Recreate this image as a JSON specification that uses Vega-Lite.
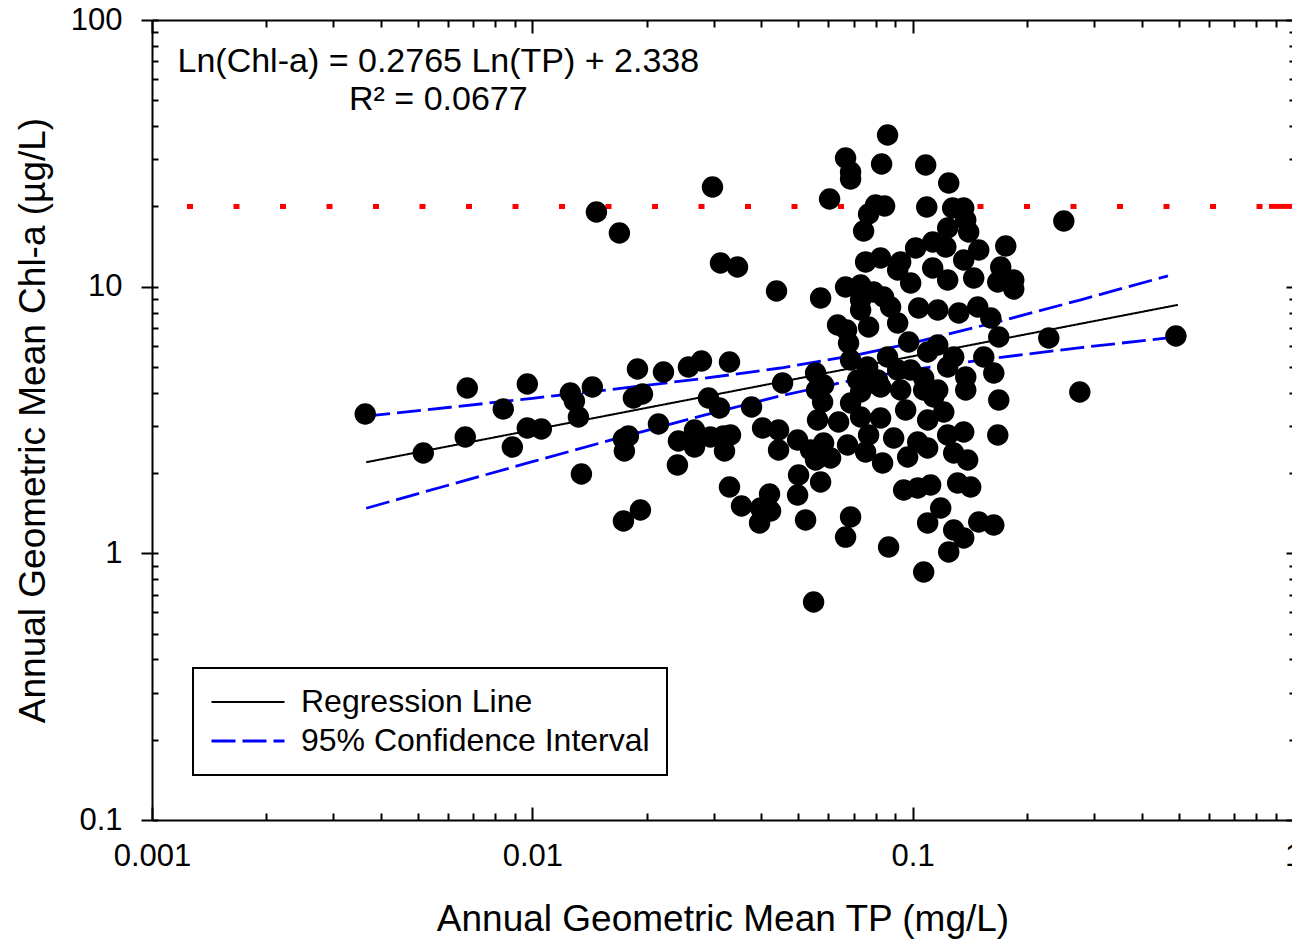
{
  "$schema": "https://vega.github.io/schema/vega-lite/v6.json",
  "width": 1141,
  "height": 800,
  "autosize": {"type": "none"},
  "padding": {"left": 152, "top": 20, "right": 0, "bottom": 120},
  "background": "white",
  "config": {
    "font": "Liberation Sans",
    "view": {"stroke": null},
    "axis": {"domainColor": "black", "domainWidth": 2, "tickColor": "black", "tickWidth": 2, "labelColor": "black", "titleColor": "black", "labelFont": "Liberation Sans", "titleFont": "Liberation Sans", "titleFontWeight": "normal", "labelFlush": false, "labelOverlap": false, "grid": false},
    "legend": {"strokeColor": "black", "strokeWidth": 2, "fillColor": "white", "padding": 17, "cornerRadius": 0}
  },
  "datasets": {
    "points": [
      {"TP":0.003636,"Chl":3.331},{"TP":0.005167,"Chl":2.378},{"TP":0.006663,"Chl":2.731},{"TP":0.006744,"Chl":4.169},{"TP":0.008386,"Chl":3.477},{"TP":0.008859,"Chl":2.504},{"TP":0.009701,"Chl":4.315},{"TP":0.009701,"Chl":2.951},{"TP":0.01056,"Chl":2.925},{"TP":0.01259,"Chl":3.992},{"TP":0.0129,"Chl":3.726},{"TP":0.01322,"Chl":3.246},{"TP":0.01346,"Chl":1.984},{"TP":0.01438,"Chl":4.205},{"TP":0.01474,"Chl":19.05},{"TP":0.01694,"Chl":15.89},{"TP":0.01736,"Chl":1.322},{"TP":0.01924,"Chl":1.454},{"TP":0.0189,"Chl":4.911},{"TP":0.02212,"Chl":4.786},{"TP":0.01844,"Chl":3.824},{"TP":0.01948,"Chl":3.958},{"TP":0.02146,"Chl":3.055},{"TP":0.01736,"Chl":2.684},{"TP":0.01789,"Chl":2.754},{"TP":0.01746,"Chl":2.42},{"TP":0.02422,"Chl":2.637},{"TP":0.02407,"Chl":2.144},
      {"TP":0.02573,"Chl":4.997},{"TP":0.02784,"Chl":5.263},{"TP":0.03299,"Chl":5.218},{"TP":0.02976,"Chl":23.64},{"TP":0.03124,"Chl":12.27},{"TP":0.03463,"Chl":11.85},{"TP":0.04386,"Chl":9.63},{"TP":0.04549,"Chl":4.353},{"TP":0.02905,"Chl":3.824},{"TP":0.03105,"Chl":3.508},{"TP":0.0377,"Chl":3.538},{"TP":0.02669,"Chl":2.9},{"TP":0.02669,"Chl":2.504},{"TP":0.0294,"Chl":2.731},{"TP":0.03181,"Chl":2.754},{"TP":0.03319,"Chl":2.778},{"TP":0.03201,"Chl":2.42},{"TP":0.0403,"Chl":2.951},{"TP":0.0444,"Chl":2.9},{"TP":0.04982,"Chl":2.661},{"TP":0.0444,"Chl":2.441},{"TP":0.03299,"Chl":1.773},{"TP":0.03548,"Chl":1.505},{"TP":0.04204,"Chl":1.669},{"TP":0.0423,"Chl":1.441},{"TP":0.03981,"Chl":1.479},{"TP":0.03958,"Chl":1.3},{"TP":0.05012,"Chl":1.967},{"TP":0.04982,"Chl":1.655},{"TP":0.05229,"Chl":1.334},
      {"TP":0.08591,"Chl":37.05},{"TP":0.06662,"Chl":30.37},{"TP":0.06867,"Chl":26.92},{"TP":0.06867,"Chl":25.33},{"TP":0.08285,"Chl":28.84},{"TP":0.1082,"Chl":28.59},{"TP":0.1244,"Chl":24.47},{"TP":0.06047,"Chl":21.32},{"TP":0.07989,"Chl":20.24},{"TP":0.08437,"Chl":20.07},{"TP":0.07658,"Chl":18.73},{"TP":0.07431,"Chl":16.17},{"TP":0.1089,"Chl":19.9},{"TP":0.1274,"Chl":19.72},{"TP":0.1362,"Chl":19.72},{"TP":0.1379,"Chl":17.78},{"TP":0.1236,"Chl":16.6},{"TP":0.1404,"Chl":16.03},{"TP":0.1492,"Chl":13.72},{"TP":0.1757,"Chl":14.21},{"TP":0.1018,"Chl":13.96},{"TP":0.1129,"Chl":14.71},{"TP":0.1222,"Chl":14.09},{"TP":0.07521,"Chl":12.38},{"TP":0.08235,"Chl":12.81},{"TP":0.09299,"Chl":12.38},{"TP":0.1129,"Chl":11.75},{"TP":0.1236,"Chl":10.59},{"TP":0.1362,"Chl":12.59},{"TP":0.1447,"Chl":10.78},{"TP":0.1704,"Chl":11.85},{"TP":0.1674,"Chl":10.41},{"TP":0.1844,"Chl":9.8},{"TP":0.05727,"Chl":9.069},{"TP":0.06662,"Chl":9.97},{"TP":0.07297,"Chl":10.14},{"TP":0.07893,"Chl":9.55},{"TP":0.09132,"Chl":11.55},{"TP":0.09879,"Chl":10.32},
      {"TP":0.07297,"Chl":8.913},{"TP":0.08386,"Chl":9.147},{"TP":0.08749,"Chl":8.391},{"TP":0.07297,"Chl":8.175},{"TP":0.06347,"Chl":7.181},{"TP":0.07658,"Chl":7.058},{"TP":0.09132,"Chl":7.306},{"TP":0.1037,"Chl":8.318},{"TP":0.1164,"Chl":8.175},{"TP":0.1322,"Chl":7.966},{"TP":0.1483,"Chl":8.391},{"TP":0.1605,"Chl":7.628},{"TP":0.1684,"Chl":6.475},{"TP":0.06784,"Chl":6.148},{"TP":0.09761,"Chl":6.201},{"TP":0.1164,"Chl":6.043},{"TP":0.08591,"Chl":5.448},{"TP":0.09132,"Chl":4.869},{"TP":0.1095,"Chl":5.689},{"TP":0.1282,"Chl":5.448},{"TP":0.1538,"Chl":5.448},{"TP":0.1634,"Chl":4.745},{"TP":0.1379,"Chl":4.584},{"TP":0.05556,"Chl":4.745},{"TP":0.06867,"Chl":5.309},{"TP":0.07612,"Chl":4.997},{"TP":0.07166,"Chl":4.467},{"TP":0.08087,"Chl":4.467},{"TP":0.09879,"Chl":4.869},{"TP":0.1069,"Chl":4.545},{"TP":0.1236,"Chl":4.997},{"TP":0.05832,"Chl":4.278},
      {"TP":0.05797,"Chl":3.694},{"TP":0.05623,"Chl":3.162},{"TP":0.0539,"Chl":2.441},{"TP":0.05556,"Chl":2.239},{"TP":0.06084,"Chl":2.278},{"TP":0.06386,"Chl":3.108},{"TP":0.06867,"Chl":3.662},{"TP":0.07297,"Chl":3.246},{"TP":0.07751,"Chl":4.353},{"TP":0.08235,"Chl":3.218},{"TP":0.06743,"Chl":2.548},{"TP":0.07521,"Chl":2.399},{"TP":0.07658,"Chl":2.778},{"TP":0.08913,"Chl":2.707},{"TP":0.08335,"Chl":2.182},{"TP":0.09585,"Chl":3.447},{"TP":0.1095,"Chl":3.162},{"TP":0.1207,"Chl":3.388},{"TP":0.09299,"Chl":4.097},{"TP":0.1069,"Chl":4.097},{"TP":0.1164,"Chl":4.097},{"TP":0.1379,"Chl":4.097},{"TP":0.1684,"Chl":3.758},{"TP":0.09701,"Chl":2.298},{"TP":0.1031,"Chl":2.615},{"TP":0.1095,"Chl":2.483},{"TP":0.1236,"Chl":2.778},{"TP":0.1362,"Chl":2.851},{"TP":0.1282,"Chl":2.378},{"TP":0.1395,"Chl":2.239},{"TP":0.1674,"Chl":2.778},{"TP":0.05589,"Chl":4.097},{"TP":0.08235,"Chl":4.205},{"TP":0.1136,"Chl":3.857},{"TP":0.07297,"Chl":4.027},
      {"TP":0.05727,"Chl":1.851},{"TP":0.06867,"Chl":1.369},{"TP":0.06662,"Chl":1.151},{"TP":0.08644,"Chl":1.056},{"TP":0.05489,"Chl":0.657},{"TP":0.09469,"Chl":1.728},{"TP":0.1031,"Chl":1.758},{"TP":0.1115,"Chl":1.804},{"TP":0.1313,"Chl":1.835},{"TP":0.1421,"Chl":1.773},{"TP":0.1185,"Chl":1.479},{"TP":0.1095,"Chl":1.3},{"TP":0.1282,"Chl":1.223},{"TP":0.1362,"Chl":1.142},{"TP":0.1244,"Chl":1.012},{"TP":0.1069,"Chl":0.851},{"TP":0.1492,"Chl":1.311},{"TP":0.1634,"Chl":1.277},
      {"TP":0.2497,"Chl":17.63},{"TP":0.1844,"Chl":10.59},{"TP":0.228,"Chl":6.419},{"TP":0.4922,"Chl":6.531},{"TP":0.2751,"Chl":4.027},{"TP":0.05832,"Chl":2.592},{"TP":0.06702,"Chl":6.879}
    ],
    "lines": [
      {"TP":0.003658,"Chl":2.196,"series":"Regression Line","part":"reg"},
      {"TP":0.4981,"Chl":8.546,"series":"Regression Line","part":"reg"},
      {"TP":0.003658,"Chl":3.267,"series":"95% Confidence Interval","part":"upper"},
      {"TP":0.006085,"Chl":3.53,"series":"95% Confidence Interval","part":"upper"},
      {"TP":0.01,"Chl":3.814,"series":"95% Confidence Interval","part":"upper"},
      {"TP":0.01704,"Chl":4.153,"series":"95% Confidence Interval","part":"upper"},
      {"TP":0.02768,"Chl":4.512,"series":"95% Confidence Interval","part":"upper"},
      {"TP":0.04494,"Chl":4.954,"series":"95% Confidence Interval","part":"upper"},
      {"TP":0.07037,"Chl":5.527,"series":"95% Confidence Interval","part":"upper"},
      {"TP":0.1,"Chl":6.15,"series":"95% Confidence Interval","part":"upper"},
      {"TP":0.1704,"Chl":7.428,"series":"95% Confidence Interval","part":"upper"},
      {"TP":0.2768,"Chl":8.927,"series":"95% Confidence Interval","part":"upper"},
      {"TP":0.469,"Chl":10.98,"series":"95% Confidence Interval","part":"upper"},
      {"TP":0.003658,"Chl":1.476,"series":"95% Confidence Interval","part":"lower"},
      {"TP":0.006085,"Chl":1.81,"series":"95% Confidence Interval","part":"lower"},
      {"TP":0.01,"Chl":2.206,"series":"95% Confidence Interval","part":"lower"},
      {"TP":0.01704,"Chl":2.72,"series":"95% Confidence Interval","part":"lower"},
      {"TP":0.02768,"Chl":3.272,"series":"95% Confidence Interval","part":"lower"},
      {"TP":0.04494,"Chl":3.896,"series":"95% Confidence Interval","part":"lower"},
      {"TP":0.07037,"Chl":4.476,"series":"95% Confidence Interval","part":"lower"},
      {"TP":0.1,"Chl":4.887,"series":"95% Confidence Interval","part":"lower"},
      {"TP":0.1704,"Chl":5.433,"series":"95% Confidence Interval","part":"lower"},
      {"TP":0.2768,"Chl":5.908,"series":"95% Confidence Interval","part":"lower"},
      {"TP":0.469,"Chl":6.429,"series":"95% Confidence Interval","part":"lower"}
    ]
  },
  "layer": [
    {
      "data": {"values": [{"Chl": 20}]},
      "mark": {"type": "rule", "color": "#ff0000", "strokeWidth": 5, "strokeDash": [6, 40.5], "strokeDashOffset": 16},
      "encoding": {
        "y": {"field": "Chl", "type": "quantitative", "scale": {"type": "log", "domain": [0.1, 100], "nice": false},
              "axis": {"orient": "left", "values": [0.1, 1, 10, 100], "tickSize": 11, "labels": false, "domain": false, "title": null}}
      }
    },
    {
      "data": {"values": [{"TP": 0.865, "TP2": 1, "Chl": 20}]},
      "mark": {"type": "rule", "color": "#ff0000", "strokeWidth": 5},
      "encoding": {
        "x": {"field": "TP", "type": "quantitative", "scale": {"type": "log", "domain": [0.001, 1], "nice": false}, "axis": null},
        "x2": {"field": "TP2"},
        "y": {"field": "Chl", "type": "quantitative", "axis": null}
      }
    },
    {
      "data": {"name": "lines"},
      "mark": {"type": "line"},
      "encoding": {
        "x": {"field": "TP", "type": "quantitative", "scale": {"type": "log", "domain": [0.001, 1], "nice": false},
              "axis": {"orient": "top", "values": [0.001,0.002,0.003,0.004,0.005,0.006,0.007,0.008,0.009,0.01,0.02,0.03,0.04,0.05,0.06,0.07,0.08,0.09,0.1,0.2,0.3,0.4,0.5,0.6,0.7,0.8,0.9,1],
                       "tickSize": -13, "tickDash": {"condition": {"test": "indexof([0.001,0.01,0.1,1], datum.value) < 0", "value": [7, 40]}, "value": [1, 0]},
                       "labels": false, "title": null}},
        "y": {"field": "Chl", "type": "quantitative", "scale": {"type": "log", "domain": [0.1, 100], "nice": false},
              "axis": {"orient": "right", "values": [0.1,0.2,0.3,0.4,0.5,0.6,0.7,0.8,0.9,1,2,3,4,5,6,7,8,9,10,20,30,40,50,60,70,80,90,100],
                       "tickSize": -7, "tickDash": {"condition": {"test": "indexof([0.1,1,10,100], datum.value) < 0", "value": [4, 40]}, "value": [1, 0]},
                       "labels": false, "title": null}},
        "color": {"field": "series", "type": "nominal",
                  "scale": {"domain": ["Regression Line", "95% Confidence Interval"], "range": ["#000000", "#0000ff"]},
                  "legend": {"title": null, "orient": "none", "legendX": 41, "legendY": 648, "symbolType": "stroke", "symbolSize": 5329, "symbolStrokeWidth": 2, "clipHeight": 34, "labelFontSize": 32, "labelFont": "Liberation Sans", "labelColor": "black", "labelOffset": 15, "labelLimit": 1000, "rowPadding": 5}},
        "strokeDash": {"field": "series", "type": "nominal",
                       "scale": {"domain": ["Regression Line", "95% Confidence Interval"], "range": [[1, 0], [24, 7]]},
                       "legend": {"title": null, "orient": "none", "legendX": 41, "legendY": 648, "symbolType": "stroke", "symbolSize": 5329, "symbolStrokeWidth": 2, "clipHeight": 34, "labelFontSize": 32, "labelFont": "Liberation Sans", "labelColor": "black", "labelOffset": 15, "labelLimit": 1000, "rowPadding": 5}},
        "strokeWidth": {"field": "series", "type": "nominal", "scale": {"domain": ["Regression Line", "95% Confidence Interval"], "range": [2, 2.8]}, "legend": null},
        "detail": {"field": "part"}
      }
    },
    {
      "data": {"name": "points"},
      "mark": {"type": "circle", "size": 460, "color": "black", "opacity": 1},
      "encoding": {
        "x": {"field": "TP", "type": "quantitative", "scale": {"type": "log", "domain": [0.001, 1], "nice": false},
              "axis": {"orient": "bottom", "values": [0.001,0.002,0.003,0.004,0.005,0.006,0.007,0.008,0.009,0.01,0.02,0.03,0.04,0.05,0.06,0.07,0.08,0.09,0.1,0.2,0.3,0.4,0.5,0.6,0.7,0.8,0.9,1],
                       "tickSize": -13, "tickDash": {"condition": {"test": "indexof([0.001,0.01,0.1,1], datum.value) < 0", "value": [7, 40]}, "value": [1, 0]},
                       "format": "~g", "labelExpr": "indexof([0.001,0.01,0.1,1], datum.value) >= 0 ? datum.label : ''",
                       "labelFontSize": 31, "labelPadding": 34,
                       "title": "Annual Geometric Mean TP (mg/L)", "titleFontSize": 37, "titlePadding": 30}},
        "y": {"field": "Chl", "type": "quantitative", "scale": {"type": "log", "domain": [0.1, 100], "nice": false},
              "axis": {"orient": "left", "values": [0.1,0.2,0.3,0.4,0.5,0.6,0.7,0.8,0.9,1,2,3,4,5,6,7,8,9,10,20,30,40,50,60,70,80,90,100],
                       "tickSize": -6,
                       "format": "~g", "labelExpr": "indexof([0.1,1,10,100], datum.value) >= 0 ? datum.label : ''",
                       "labelFontSize": 31, "labelPadding": 36,
                       "title": "Annual Geometric Mean Chl-a (µg/L)", "titleFontSize": 37, "titlePadding": 18}}
      }
    },
    {
      "data": {"values": [
        {"TP": 0.00566, "Chl": 63.83, "label": "Ln(Chl-a) = 0.2765 Ln(TP) + 2.338"},
        {"TP": 0.00566, "Chl": 45.97, "label": "R² = 0.0677"}
      ]},
      "mark": {"type": "text", "fontSize": 34, "align": "center", "baseline": "alphabetic", "color": "black", "font": "Liberation Sans"},
      "encoding": {
        "x": {"field": "TP", "type": "quantitative", "axis": null},
        "y": {"field": "Chl", "type": "quantitative", "axis": null},
        "text": {"field": "label"}
      }
    }
  ],
  "resolve": {"axis": {"x": "independent", "y": "independent"}}
}
